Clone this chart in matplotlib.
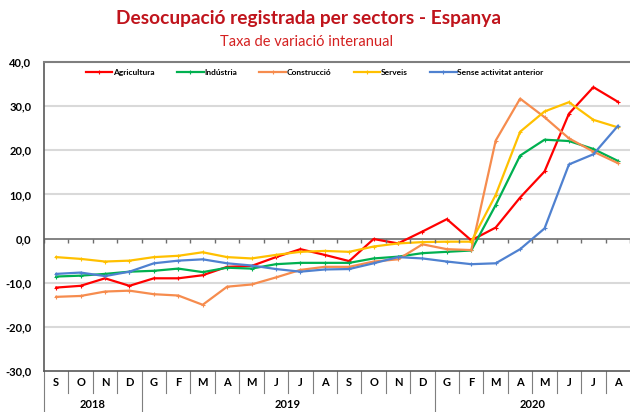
import numpy as np
import matplotlib.pyplot as plt
from matplotlib.transforms import blended_transform_factory

months = ['S', 'O', 'N', 'D', 'G', 'F', 'M', 'A', 'M', 'J', 'J', 'A',
          'S', 'O', 'N', 'D', 'G', 'F', 'M', 'A', 'M', 'J', 'J', 'A']
years = ['2018', '2019', '2020']
year_len = [4, 12, 8]

agricultura = [-11.1, -10.7, -9.0, -10.7, -9.0, -9.0, -8.3, -6.4, -6.2, -4.2, -2.4, -3.7,
               -5.1, -0.1, -1.1, 1.6, 4.4, -0.4, 2.5, 9.3, 15.2, 28.3, 34.3, 31.0]
industria = [-8.6, -8.4, -8.0, -7.5, -7.3, -6.8, -7.6, -6.6, -6.8, -5.8, -5.5, -5.5,
             -5.5, -4.5, -4.1, -3.3, -3.0, -2.7, 7.6, 18.8, 22.4, 22.1, 20.3, 17.6]
construccio = [-13.2, -13.0, -12.0, -11.8, -12.6, -12.9, -15.0, -10.9, -10.4, -8.8, -7.1, -6.4,
               -6.4, -5.2, -4.7, -1.3, -2.4, -2.6, 22.2, 31.7, 27.5, 22.7, 19.7, 17.1]
serveis = [-4.2, -4.6, -5.2, -5.0, -4.2, -3.9, -3.1, -4.2, -4.5, -3.7, -3.0, -2.8,
           -3.0, -1.8, -1.1, -0.8, -0.7, -0.7, 9.9, 24.2, 28.8, 30.9, 26.9, 25.2]
sense = [-8.0, -7.7, -8.5, -7.5, -5.6, -5.0, -4.7, -5.6, -6.1, -6.9, -7.5, -7.0,
         -6.9, -5.6, -4.2, -4.5, -5.2, -5.8, -5.6, -2.4, 2.3, 16.8, 19.1, 25.5]

series = [('Agricultura', agricultura, '#FF0000'),
          ('Indústria', industria, '#00B050'),
          ('Construcció', construccio, '#F68C4E'),
          ('Serveis', serveis, '#FFC000'),
          ('Sense activitat anterior', sense, '#4F81D0')]

plt.rcParams['font.family'] = ['Lato', 'DejaVu Sans']

fig = plt.figure(figsize=(6.3, 4.12), dpi=100)
ax = fig.add_axes([0.0698, 0.0995, 0.9302, 0.75])

x = np.arange(len(months))
for name, vals, col in series:
    ax.plot(x, vals, color=col, lw=1.6, marker='+', ms=3, mew=0.8, label=name)

ax.set_xlim(-0.5, len(months) - 0.5)
ax.set_ylim(-30, 40)
yt = np.arange(-30, 41, 10)
ax.set_yticks(yt)
ax.set_yticklabels([f'{v:.1f}'.replace('.', ',') for v in yt], fontsize=8, fontweight='bold')
ax.tick_params(axis='y', length=0, pad=9)
for v in [-20, -10, 10, 20, 30]:
    ax.axhline(v, color='#D9D9D9', lw=1.5, zorder=0)
ax.axhline(0, color='#6E6E6E', lw=1.2, zorder=1)
ax.vlines(np.arange(-0.5, len(months)), -0.9, 0, color='#6E6E6E', lw=1)

ax.set_xticks([])
ax.spines['right'].set_visible(False)
ax.spines['top'].set_color('#7F7F7F')
ax.spines['top'].set_linewidth(1.5)
ax.spines['left'].set_color('#595959')
ax.spines['left'].set_linewidth(1.2)
ax.spines['bottom'].set_color('#595959')
ax.spines['bottom'].set_linewidth(1.2)

# category table under the plot
tr = blended_transform_factory(ax.transData, ax.transAxes)
for i, m in enumerate(months):
    ax.text(i, -0.036, m, transform=tr, ha='center', va='center', fontsize=8, fontweight='bold')
bounds = np.cumsum([0] + year_len) - 0.5
for b in np.arange(0.5, len(months) - 1):
    if b not in bounds:
        ax.plot([b, b], [0, -0.071], transform=tr, color='#7F7F7F', lw=0.8, clip_on=False)
for b in bounds[:-1]:
    ax.plot([b, b], [0, -0.14], transform=tr, color='#7F7F7F', lw=0.8, clip_on=False)
for y, n, b in zip(years, year_len, bounds[:-1]):
    ax.text(b + n / 2, -0.11, y, transform=tr, ha='center', va='center', fontsize=8, fontweight='bold')

leg = ax.legend(loc='upper left', bbox_to_anchor=(0.06, 1.0), ncol=5, frameon=False,
                prop={'size': 6, 'weight': 'bold'}, handlelength=3.2, handletextpad=0.05,
                columnspacing=2.7, borderaxespad=0.4)

fig.text(0.49, 0.955, 'Desocupació registrada per sectors - Espanya', ha='center', va='center',
         fontsize=13.8, fontweight='bold', color='#C0141C')
fig.text(0.487, 0.898, 'Taxa de variació interanual', ha='center', va='center',
         fontsize=10.5, color='#D42020')

fig.savefig('out.png', dpi=100)
